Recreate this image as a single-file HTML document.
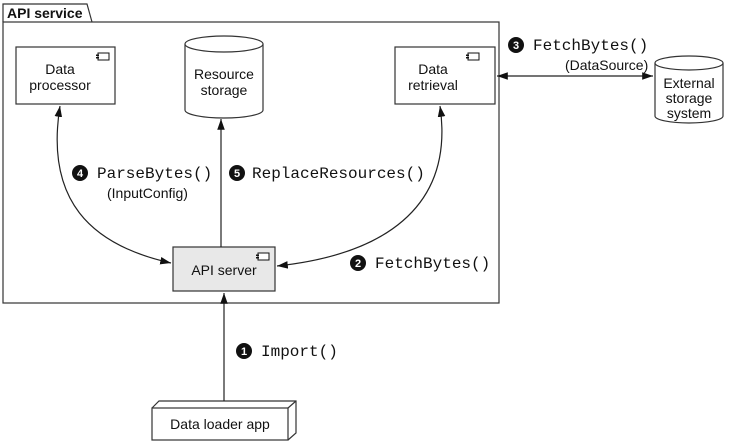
<!DOCTYPE html>
<html><head><style>
body{margin:0;background:#fff;}
svg text{font-family:"Liberation Sans",sans-serif;font-size:14px;fill:#111}
.m{font-family:"Liberation Mono",monospace;font-size:16px !important}
</style></head><body>
<svg width="729" height="442" viewBox="0 0 729 442" xmlns="http://www.w3.org/2000/svg">
<defs>
<marker id="a" viewBox="0 0 10 10" refX="10" refY="5" markerWidth="9" markerHeight="9" orient="auto-start-reverse"><path d="M0,1.5 L10,5 L0,8.5 z" fill="#111"/></marker>
<g id="ic"><rect x="2" y="0" width="11" height="7" fill="#fff" stroke="#111" stroke-width="1"/><rect x="0" y="1.5" width="3" height="1.5" fill="#111"/><rect x="0" y="4" width="3" height="1.5" fill="#111"/></g>
</defs>
<path d="M3,22 L3,4 L87,4 L92,22" fill="#fff" stroke="#333" stroke-width="1.2"/>
<text x="7" y="18" style="font-weight:bold;font-size:14px">API service</text>
<rect x="3" y="22" width="496" height="281" fill="none" stroke="#333" stroke-width="1.2"/>
<rect x="16" y="47" width="99" height="57" fill="#fff" stroke="#333" stroke-width="1.2"/>
<use href="#ic" x="96" y="53"/>
<text x="60" y="74" text-anchor="middle">Data</text><text x="60" y="90" text-anchor="middle">processor</text>
<path d="M185,44 L185,110 A39,8 0 0 0 263,110 L263,44" fill="#fff" stroke="#333" stroke-width="1.2"/>
<ellipse cx="224" cy="44" rx="39" ry="8" fill="#fff" stroke="#333" stroke-width="1.2"/>
<text x="224" y="79" text-anchor="middle">Resource</text><text x="224" y="95" text-anchor="middle">storage</text>
<rect x="395" y="47" width="100" height="57" fill="#fff" stroke="#333" stroke-width="1.2"/>
<use href="#ic" x="466" y="53"/>
<text x="433" y="74" text-anchor="middle">Data</text><text x="433" y="90" text-anchor="middle">retrieval</text>
<path d="M655,63 L655,116 A34,7 0 0 0 723,116 L723,63" fill="#fff" stroke="#333" stroke-width="1.2"/>
<ellipse cx="689" cy="63" rx="34" ry="7" fill="#fff" stroke="#333" stroke-width="1.2"/>
<text x="689" y="88" text-anchor="middle">External</text><text x="689" y="103" text-anchor="middle">storage</text><text x="689" y="118" text-anchor="middle">system</text>
<rect x="173" y="247" width="102" height="44" fill="#e8e8e8" stroke="#333" stroke-width="1.2"/>
<use href="#ic" x="256" y="253"/>
<text x="224" y="275" text-anchor="middle">API server</text>
<path d="M152,408 L159,401 L296,401 L296,433 L288,440" fill="#fff" stroke="#333" stroke-width="1.2"/>
<line x1="288" y1="408" x2="296" y2="401" stroke="#333" stroke-width="1.2"/>
<rect x="152" y="408" width="136" height="32" fill="#fff" stroke="#333" stroke-width="1.2"/>
<text x="220" y="429" text-anchor="middle">Data loader app</text>
<g fill="none" stroke="#222" stroke-width="1.2">
<path d="M224,401 L224,293" marker-end="url(#a)"/>
<path d="M221,247 L221,119" marker-end="url(#a)"/>
<path d="M171,263 C90,245 45,200 60,106" marker-start="url(#a)" marker-end="url(#a)"/>
<path d="M277,266 C380,255 455,210 440,106" marker-start="url(#a)" marker-end="url(#a)"/>
<path d="M497,76 L653,76" marker-start="url(#a)" marker-end="url(#a)"/>
</g>
<g>
<circle cx="80" cy="173" r="8" fill="#111"/><text x="80" y="177" text-anchor="middle" style="fill:#fff;font-weight:bold;font-size:11px">4</text>
<circle cx="237" cy="173" r="8" fill="#111"/><text x="237" y="177" text-anchor="middle" style="fill:#fff;font-weight:bold;font-size:11px">5</text>
<circle cx="358" cy="263" r="8" fill="#111"/><text x="358" y="267" text-anchor="middle" style="fill:#fff;font-weight:bold;font-size:11px">2</text>
<circle cx="516" cy="45" r="8" fill="#111"/><text x="516" y="49" text-anchor="middle" style="fill:#fff;font-weight:bold;font-size:11px">3</text>
<circle cx="244" cy="351" r="8" fill="#111"/><text x="244" y="355" text-anchor="middle" style="fill:#fff;font-weight:bold;font-size:11px">1</text>
</g>
<text class="m" x="97" y="178">ParseBytes()</text>
<text x="107" y="198">(InputConfig)</text>
<text class="m" x="252" y="178">ReplaceResources()</text>
<text class="m" x="375" y="268">FetchBytes()</text>
<text class="m" x="533" y="50">FetchBytes()</text>
<text x="565" y="70">(DataSource)</text>
<text class="m" x="261" y="356">Import()</text>
</svg>
</body></html>
